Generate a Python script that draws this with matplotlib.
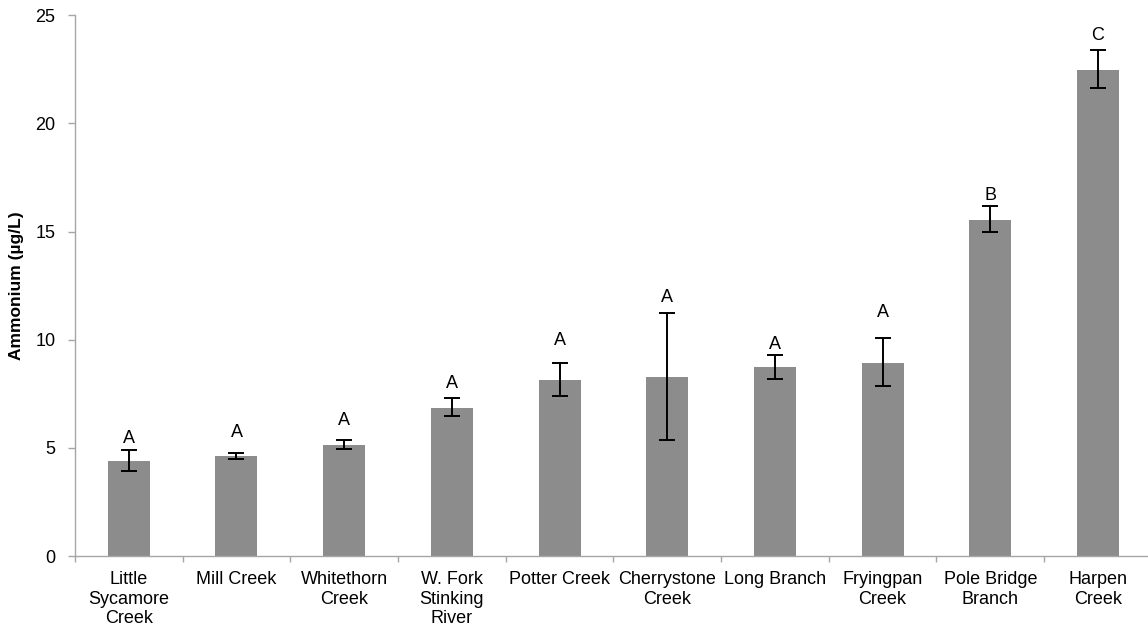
import matplotlib
matplotlib.use("Agg")
import matplotlib.pyplot as plt
import numpy as np

plt.rcParams["font.family"] = ["Liberation Sans", "DejaVu Sans"]

# Mean ammonium concentration per stream with standard-error limits
streams = [
    "Little\nSycamore\nCreek", "Mill Creek", "Whitethorn\nCreek",
    "W. Fork\nStinking\nRiver", "Potter Creek", "Cherrystone\nCreek",
    "Long Branch", "Fryingpan\nCreek", "Pole Bridge\nBranch", "Harpen\nCreek",
]
ammonium = [4.40, 4.62, 5.13, 6.86, 8.14, 8.28, 8.73, 8.93, 15.55, 22.46]
err_upper = [4.89, 4.77, 5.34, 7.29, 8.90, 11.23, 9.30, 10.07, 16.17, 23.37]
err_lower = [3.92, 4.50, 4.95, 6.45, 7.41, 5.34, 8.17, 7.85, 14.97, 21.62]
groups = ["A", "A", "A", "A", "A", "A", "A", "A", "B", "C"]
# clearance of each group letter above its error cap
letter_gap = [0.34, 0.74, 0.71, 0.49, 0.86, 0.50, 0.26, 0.98, 0.28, 0.49]

yticks = [0, 5, 10, 15, 20, 25]

fig = plt.figure(figsize=(11.48, 6.35), dpi=100)
ax = fig.add_axes([0.0653, 0.1244, 0.938, 0.8516])

x = np.arange(len(streams))
vals = np.array(ammonium)
lo = vals - np.array(err_lower)
hi = np.array(err_upper) - vals

ax.bar(x, vals, width=0.39, color="#8c8c8c", zorder=2)
ax.errorbar(x, vals, yerr=[lo, hi], fmt="none", ecolor="black",
            elinewidth=1.4, capsize=5.6, capthick=1.4, zorder=3)

for xi, top, g, gap in zip(x, err_upper, groups, letter_gap):
    ax.text(xi, top + gap, g, ha="center", va="baseline",
            fontsize=13, color="black")

ax.set_xlim(-0.5, len(streams) - 0.5)
ax.set_ylim(0, 25)
ax.set_yticks(yticks)
ax.set_yticklabels([str(t) for t in yticks])
ax.set_xticks(x)
ax.set_xticklabels(streams, fontsize=13, linespacing=1.2)
ax.set_xticks(np.arange(len(streams) + 1) - 0.5, minor=True)

ax.tick_params(axis="x", which="major", length=0, pad=11)
ax.tick_params(axis="x", which="minor", length=4, width=1.0,
               color="#a6a6a6", direction="out")
ax.tick_params(axis="y", which="major", length=5, width=1.0,
               color="#a6a6a6", direction="out", pad=9, labelsize=13)

for side in ("top", "right"):
    ax.spines[side].set_visible(False)
for side in ("left", "bottom"):
    ax.spines[side].set_color("#a6a6a6")
    ax.spines[side].set_linewidth(1.0)

ax.set_ylabel("Ammonium (µg/L)", fontsize=12.5, fontweight="bold", labelpad=8)

fig.savefig("out.png", dpi=100)
